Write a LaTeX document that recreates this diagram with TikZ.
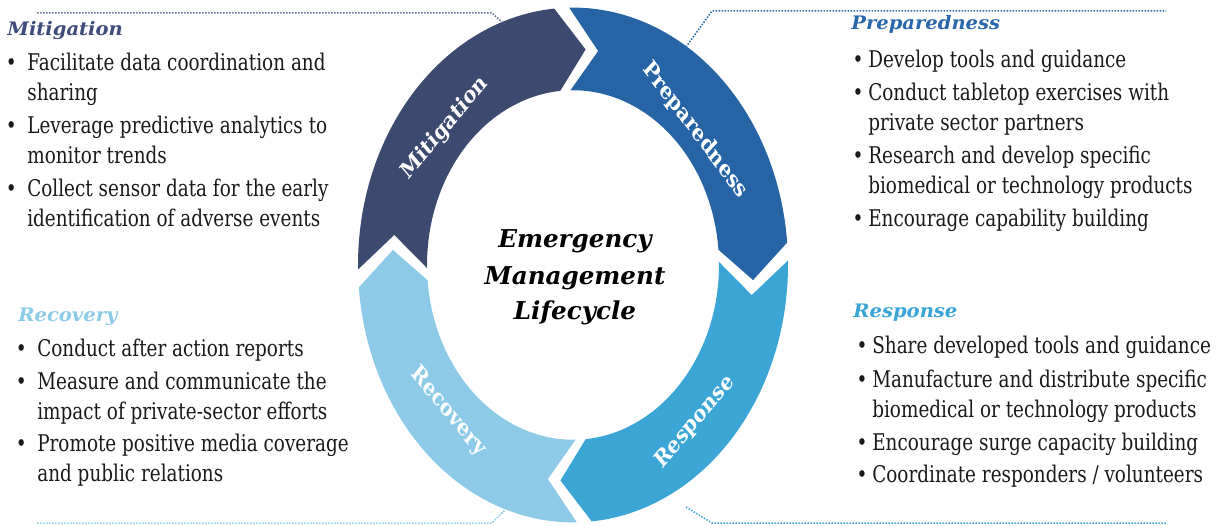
\documentclass[tikz,border=0pt]{standalone}
\usepackage{fontspec}
\setmainfont{DejaVu Serif}
\definecolor{cMit}{HTML}{3B4A6E}
\definecolor{cPre}{HTML}{2664A6}
\definecolor{cRes}{HTML}{3BA6D6}
\definecolor{cRec}{HTML}{8DCAE7}
\definecolor{tMit}{HTML}{3E4C7C}
\definecolor{tPre}{HTML}{2A68AC}
\definecolor{tRes}{HTML}{39A4D8}
\definecolor{tRec}{HTML}{8CCBE8}
\definecolor{txt}{HTML}{1A1A1A}
\newcommand\RingSeg[2]{%
  \fill[#2] plot[domain=#1+1:#1-85,samples=70] ({573+215*cos(\x)},{260+257.4*sin(\x)})
   -- ({573+180.5*cos(#1-94)},{260+216.06*sin(#1-94)})
   -- plot[domain=#1-85:#1+1,samples=70] ({573+146*cos(\x)},{260+174.76*sin(\x)})
   -- ({573+180.5*cos(#1-8)},{260+216.06*sin(#1-8)}) -- cycle;}
\newcommand\bulL{\llap{\textbullet\hspace{6.6pt}}}
\newcommand\bulR{\llap{\textbullet\hspace{3pt}}}
\tikzset{
  body/.style={font=\fontsize{11.5}{15}\selectfont, text=txt, align=left, anchor=base west, inner sep=0pt, xscale=0.8},
  ttl/.style={font=\bfseries\itshape\fontsize{9.3}{11}\selectfont, anchor=base west, inner sep=0pt, xscale=1.05},
  ctr/.style={font=\bfseries\itshape\fontsize{12.3}{14}\selectfont, text=black, anchor=base, inner sep=0pt},
  ringlbl/.style={font=\bfseries\fontsize{11.5}{12}\selectfont, text=white, inner sep=0pt, xscale=0.835},
  dotline/.style={line width=0.75pt, dash pattern=on 0.75pt off 0.75pt}
}
\begin{document}
\begin{tikzpicture}[x=0.5pt,y=0.5pt]
\useasboundingbox (0,0) rectangle (1216,525);
\fill[white] (0,0) rectangle (1216,525);
% ring arrows
\RingSeg{180}{cMit}
\RingSeg{90}{cPre}
\RingSeg{0}{cRes}
\RingSeg{-90}{cRec}
% ring labels
\node[ringlbl, rotate=45] (lMit) at (445,397) {Mitigation};
\node[ringlbl, rotate=-48] (lPre) at (695,395) {Preparedness};
\node[ringlbl, rotate=45] (lRes) at (695,103) {Response};
\node[ringlbl, rotate=-45] (lRec) at (448,113) {Recovery};
% centre
\node[ctr] (cEm) at (575,277) {Emergency};
\node[ctr] (cMa) at (575,240) {Management};
\node[ctr] (cLi) at (575,205) {Lifecycle};
% dotted leaders
\coordinate (d1a) at (37,512); \coordinate (d1b) at (492,512); \coordinate (d1c) at (504,501);
\draw[dotline, color=tMit!80] (d1a) -- (d1b) -- (d1c);
\coordinate (d2a) at (686,478); \coordinate (d2b) at (712,514); \coordinate (d2c) at (1166,514);
\draw[dotline, color=tPre] (d2a) -- (d2b) -- (d2c);
\coordinate (d3a) at (37,2); \coordinate (d3b) at (492,2); \coordinate (d3c) at (505,15);
\draw[dotline, color=tRec] (d3a) -- (d3b) -- (d3c);
\coordinate (d4a) at (686,18); \coordinate (d4b) at (712,2); \coordinate (d4c) at (1166,2);
\draw[dotline, color=tRes] (d4a) -- (d4b) -- (d4c);
% titles
\node[ttl, text=tMit] (tM) at (7,489) {Mitigation};
\node[ttl, text=tPre] (tP) at (851,495) {Preparedness};
\node[ttl, text=tRec] (tC) at (18,203) {Recovery};
\node[ttl, text=tRes] (tR) at (853,207) {Response};
% lists (anchored at the baseline of their last line)
\node[body] (bM) at (27,298) {\bulL Facilitate data coordination and\\
sharing\\[1.5pt]
\bulL Leverage predictive analytics to\\
monitor trends\\[1.5pt]
\bulL Collect sensor data for the early\\
identification of adverse events};
\node[body] (bP) at (868,298) {\bulR Develop tools and guidance\\[1.5pt]
\bulR Conduct tabletop exercises with\\
private sector partners\\[1.5pt]
\bulR Research and develop specific\\
biomedical or technology products\\[1.5pt]
\bulR Encourage capability building};
\node[body] (bC) at (37,43) {\bulL Conduct after action reports\\[1.5pt]
\bulL Measure and communicate the\\
impact of private-sector efforts\\[1.5pt]
\bulL Promote positive media coverage\\
and public relations};
\node[body] (bR) at (872,42) {\bulR Share developed tools and guidance\\[1.5pt]
\bulR Manufacture and distribute specific\\
biomedical or technology products\\[1.5pt]
\bulR Encourage surge capacity building\\[1.5pt]
\bulR Coordinate responders / volunteers};
\end{tikzpicture}
\end{document}
